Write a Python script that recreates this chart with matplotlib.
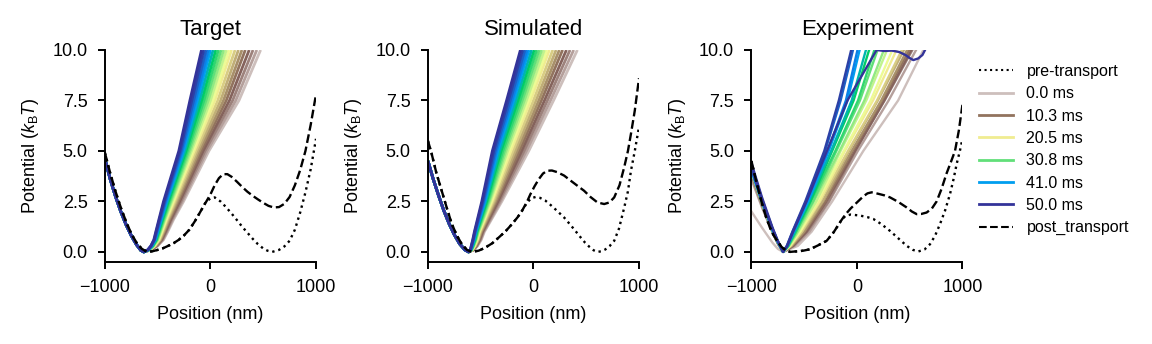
import matplotlib
matplotlib.use("Agg")
import matplotlib.pyplot as plt
from matplotlib.lines import Line2D

plt.rcParams['font.family'] = ['Liberation Sans', 'DejaVu Sans']
plt.rcParams['mathtext.fontset'] = 'custom'
plt.rcParams['mathtext.rm'] = 'Liberation Sans'
plt.rcParams['mathtext.it'] = 'Liberation Sans:italic'

# frame times (ms), every other frame of the 40-frame protocol + last one
frame_t = [0.0, 2.6, 5.1, 7.7, 10.3, 12.8, 15.4, 17.9, 20.5, 23.1, 25.6,
           28.2, 30.8, 33.3, 35.9, 38.5, 41.0, 43.6, 46.2, 48.7, 50.0]
legend_idx = [0, 4, 8, 12, 16, 20]
levels = [0.1, 0.3, 0.6, 1.0, 1.6, 2.5, 5.0, 7.5, 10.0]
exp_levels = [0.3, 1.0, 2.5, 5.0, 7.5, 10.0]

# ---- Target ----
tgt_left_x = [-1000, -950, -900, -850, -800, -750, -700, -660, -632]
tgt_left_y = [4.6, 3.6, 2.75, 2.0, 1.35, 0.8, 0.35, 0.08, 0.0]
tgt_x01 = [-560, -562, -565, -567, -569, -571, -573, -575, -577, -579, -580,
           -582, -583, -585, -587, -588, -590, -591, -592, -594, -595]
tgt_x03 = [-500, -504, -508, -513, -517, -521, -524, -528, -532, -535, -538,
           -541, -544, -546, -549, -552, -555, -558, -560, -563, -565]
tgt_x06 = [-445, -451, -457, -463, -469, -474, -480, -485, -490, -494, -498,
           -502, -507, -511, -515, -519, -523, -527, -530, -533, -537]
tgt_x1 = [-405, -412, -420, -427, -434, -441, -447, -454, -460, -466, -471,
          -476, -481, -486, -491, -496, -501, -505, -509, -514, -518]
tgt_x16 = [-350, -359, -368, -377, -386, -394, -402, -410, -418, -424, -431,
           -437, -443, -449, -455, -462, -468, -473, -478, -484, -489]
tgt_x25 = [-255, -267, -280, -292, -304, -315, -326, -337, -348, -357, -365,
           -374, -382, -391, -399, -408, -416, -423, -430, -438, -445]
tgt_x5 = [-15, -33, -52, -70, -89, -105, -122, -138, -155, -168, -180,
          -193, -206, -219, -231, -244, -257, -267, -278, -289, -300]
tgt_x75 = [270, 240, 210, 180, 150, 123, 96, 69, 42, 21, 0,
           -21, -42, -62, -83, -104, -124, -142, -159, -177, -195]
tgt_x10 = [475, 439, 403, 367, 330, 298, 265, 233, 200, 175, 150,
           125, 100, 75, 50, 25, 0, -21, -42, -64, -85]
tgt_pre_x = [-1000, -950, -900, -850, -800, -750, -700, -650, -600, -550, -500,
             -450, -400, -350, -300, -250, -200, -150, -100, -50, 0, 40, 100,
             150, 200, 250, 300, 350, 400, 450, 500, 540, 585, 650, 700, 750,
             800, 850, 900, 950, 1000]
tgt_pre_y = [4.9, 3.9, 3.0, 2.2, 1.5, 0.9, 0.45, 0.15, 0.0, 0.03, 0.1,
             0.18, 0.3, 0.43, 0.6, 0.82, 1.1, 1.5, 1.95, 2.42, 2.66, 2.7, 2.48,
             2.2, 1.9, 1.58, 1.25, 0.95, 0.65, 0.38, 0.17, 0.06, 0.0, 0.1, 0.27, 0.55,
             1.1, 1.95, 2.95, 4.1, 5.6]
tgt_post_x = [-1000, -950, -900, -850, -800, -750, -700, -650, -600, -550, -500,
              -450, -400, -350, -300, -250, -200, -150, -100, -50, 0, 40, 80,
              120, 160, 200, 250, 300, 350, 400, 450, 500, 550, 600, 650, 700,
              750, 800, 850, 900, 950, 1000]
tgt_post_y = [4.9, 3.9, 3.0, 2.2, 1.5, 0.9, 0.45, 0.15, 0.0, 0.03, 0.1,
              0.18, 0.3, 0.43, 0.6, 0.82, 1.1, 1.5, 1.95, 2.4, 2.85, 3.3, 3.65,
              3.85, 3.85, 3.72, 3.48, 3.22, 2.98, 2.78, 2.6, 2.43, 2.28, 2.2, 2.22, 2.38,
              2.72, 3.3, 4.05, 5.0, 6.3, 7.8]

# ---- Simulated ----
sim_left_x = [-1000, -950, -900, -850, -800, -750, -700, -650, -615]
sim_left_y = [4.5, 3.6, 2.8, 2.05, 1.4, 0.85, 0.4, 0.1, 0.0]
sim_x01 = [-566, -568, -570, -572, -575, -576, -578, -580, -582, -584, -585,
           -587, -588, -590, -591, -593, -594, -595, -596, -598, -599]
sim_x03 = [-530, -534, -538, -542, -546, -549, -552, -556, -559, -562, -565,
           -568, -570, -573, -576, -578, -581, -583, -585, -588, -590]
sim_x06 = [-495, -500, -505, -511, -516, -521, -525, -530, -535, -538, -542,
           -546, -549, -553, -556, -560, -564, -567, -570, -573, -576]
sim_x1 = [-465, -471, -477, -483, -490, -495, -501, -506, -512, -516, -520,
          -524, -529, -533, -537, -541, -546, -549, -553, -556, -560]
sim_x16 = [-399, -407, -416, -425, -433, -441, -449, -456, -464, -470, -476,
           -482, -488, -494, -500, -506, -512, -517, -522, -527, -532]
sim_x25 = [-300, -312, -325, -337, -349, -360, -371, -382, -393, -402, -410,
           -419, -427, -436, -444, -453, -461, -468, -475, -483, -490]
sim_x5 = [-45, -67, -89, -112, -134, -154, -174, -194, -214, -230, -245,
          -261, -276, -291, -307, -322, -338, -351, -363, -377, -390]
sim_x75 = [190, 161, 132, 104, 75, 50, 24, -1, -27, -47, -67,
           -87, -107, -126, -147, -167, -187, -204, -220, -238, -255]
sim_x10 = [416, 381, 346, 312, 276, 245, 214, 183, 151, 127, 103,
           78, 54, 30, 6, -18, -42, -62, -82, -103, -124]
sim_pre_x = [-1000, -965, -920, -870, -820, -774, -725, -679, -630, -584, -520,
             -457, -390, -330, -265, -203, -150, -108, -60, -20, 20, 60, 110,
             150, 220, 289, 340, 380, 448, 490, 530, 570, 606, 645, 680, 720,
             765, 810, 860, 895, 924, 960, 1000]
sim_pre_y = [5.5, 4.86, 3.9, 3.03, 2.15, 1.38, 0.8, 0.38, 0.1, 0.0, 0.06,
             0.21, 0.43, 0.71, 1.02, 1.38, 1.72, 2.04, 2.45, 2.66, 2.72, 2.68, 2.55,
             2.38, 2.05, 1.71, 1.4, 1.15, 0.71, 0.45, 0.25, 0.08, 0.0, 0.03, 0.12, 0.28,
             0.55, 1.15, 2.2, 3.0, 4.03, 5.0, 6.2]
sim_post_x = [-1000, -965, -920, -870, -820, -774, -725, -679, -630, -584, -520,
              -457, -390, -330, -265, -203, -150, -108, -60, -30, 10, 50, 90,
              130, 175, 225, 290, 352, 415, 479, 540, 606, 670, 720, 765, 815,
              860, 895, 924, 960, 1000]
sim_post_y = [5.5, 4.86, 3.9, 3.03, 2.15, 1.38, 0.8, 0.38, 0.1, 0.0, 0.06,
              0.21, 0.43, 0.71, 1.02, 1.38, 1.72, 2.04, 2.5, 2.85, 3.25, 3.6, 3.88,
              4.02, 4.03, 3.95, 3.78, 3.53, 3.28, 3.03, 2.72, 2.45, 2.37, 2.45, 2.7, 3.3,
              4.2, 5.0, 5.86, 7.0, 8.6]

# ---- Experiment ----
exp_min_x = -700
exp_y_m1000 = [2.0, 3.6, 3.8, 3.9, 4.0, 3.9, 4.1, 4.0, 4.2, 4.0, 4.2,
               4.1, 4.0, 4.2, 4.1, 4.3, 4.0, 4.2, 4.3, 4.1, 4.4]
exp_y_m900 = [1.2, 2.2, 2.3, 2.4, 2.45, 2.4, 2.5, 2.4, 2.5, 2.5, 2.6,
              2.5, 2.4, 2.6, 2.5, 2.6, 2.5, 2.5, 2.6, 2.5, 2.7]
exp_y_m800 = [0.45, 0.95, 1.0, 1.0, 1.05, 1.0, 1.1, 1.0, 1.1, 1.05, 1.1,
              1.1, 1.0, 1.15, 1.1, 1.1, 1.05, 1.1, 1.15, 1.1, 1.2]
exp_y_m750 = [0.15, 0.4, 0.42, 0.45, 0.45, 0.42, 0.5, 0.45, 0.5, 0.48, 0.5,
              0.5, 0.45, 0.52, 0.5, 0.5, 0.48, 0.5, 0.52, 0.5, 0.55]
exp_x03 = [-560, -590, -600, -605, -615, -618, -625, -628, -635, -637, -642,
           -645, -650, -650, -655, -655, -660, -660, -663, -665, -660]
exp_x1 = [-430, -450, -470, -478, -495, -500, -518, -522, -538, -540, -557,
          -562, -578, -576, -590, -588, -600, -602, -610, -612, -605]
exp_x25 = [-235, -262, -268, -290, -298, -320, -326, -350, -356, -378, -386,
           -410, -416, -438, -442, -458, -462, -478, -482, -490, -478]
exp_x5 = [60, 8, -15, -18, -40, -50, -75, -85, -115, -125, -155,
          -165, -195, -205, -235, -245, -268, -276, -302, -310, -285]
exp_x75 = [390, 300, 262, 258, 238, 230, 198, 190, 152, 130, 88,
           70, 28, 10, -32, -50, -90, -105, -155, -172, -90]
exp_x10 = [629, 560, 525, 515, 495, 475, 445, 425, 375, 335, 285,
           255, 195, 165, 115, 85, 25, 5, -38, -55, 186]
# last frame keeps going flat along the top of the range
exp_tail_x = [260, 330, 400, 460, 500, 534, 580, 620, 645, 690]
exp_tail_y = [9.95, 9.97, 9.9, 9.75, 9.6, 9.5, 9.58, 9.75, 10.0, 10.5]
exp_pre_x = [-1000, -950, -900, -860, -825, -790, -750, -715, -680, -635, -590,
             -550, -500, -445, -370, -287, -220, -150, -110, -60, 28, 100, 155,
             230, 313, 390, 471, 530, 581, 640, 692, 740, 787, 835, 882, 915,
             945, 975, 1000]
exp_pre_y = [4.5, 3.4, 2.4, 1.7, 1.21, 0.82, 0.5, 0.25, 0.1, 0.0, 0.02,
             0.03, 0.07, 0.13, 0.32, 0.55, 0.98, 1.55, 1.78, 1.85, 1.8, 1.72, 1.63,
             1.38, 1.04, 0.68, 0.3, 0.1, 0.02, 0.12, 0.38, 0.8, 1.38, 2.05, 2.87, 3.6,
             4.36, 5.0, 5.6]
exp_post_x = [-1000, -950, -900, -860, -825, -790, -750, -715, -680, -635, -590,
              -550, -500, -445, -370, -287, -220, -150, -110, -60, 0, 60, 100,
              139, 200, 260, 313, 390, 471, 520, 566, 610, 660, 710, 755, 800,
              850, 890, 929, 965, 1000]
exp_post_y = [4.5, 3.4, 2.4, 1.7, 1.21, 0.82, 0.5, 0.25, 0.1, 0.0, 0.02,
              0.03, 0.07, 0.13, 0.32, 0.55, 0.98, 1.55, 1.85, 2.15, 2.45, 2.75, 2.9,
              2.95, 2.88, 2.8, 2.7, 2.48, 2.2, 2.0, 1.87, 1.88, 1.95, 2.15, 2.5, 3.1,
              3.9, 4.45, 5.0, 6.0, 7.3]

cmap = plt.get_cmap('terrain')


def frame_color(t):
    return cmap(0.9 * (1 - t / 50.0))


def style_ax(ax, title):
    ax.set_xlim(-1000, 1000)
    ax.set_ylim(-0.5, 10)
    ax.set_xticks([-1000, 0, 1000])
    ax.set_yticks([0, 2.5, 5, 7.5, 10])
    ax.set_yticklabels(['0.0', '2.5', '5.0', '7.5', '10.0'])
    ax.spines['top'].set_visible(False)
    ax.spines['right'].set_visible(False)
    for s in ['left', 'bottom']:
        ax.spines[s].set_linewidth(1.4)
    ax.tick_params(width=1.4, length=5, labelsize=13, pad=7.5)
    ax.set_title(title, fontsize=16, pad=11)
    ax.set_xlabel('Position (nm)', fontsize=13, labelpad=7)
    ax.set_ylabel(r'Potential ($k_{\mathrm{B}}T$)', fontsize=13, labelpad=8)


fig = plt.figure(figsize=(11.52, 3.44), dpi=100)
ax_w, ax_h, ax_b = 0.1832, 0.6163, 0.2384
axes = [fig.add_axes([l, ax_b, ax_w, ax_h]) for l in (0.0911, 0.3715, 0.6523)]

# Target and Simulated: dense bands of curves
for ax, lx, ly, xl in [
        (axes[0], tgt_left_x, tgt_left_y,
         [tgt_x01, tgt_x03, tgt_x06, tgt_x1, tgt_x16, tgt_x25, tgt_x5, tgt_x75, tgt_x10]),
        (axes[1], sim_left_x, sim_left_y,
         [sim_x01, sim_x03, sim_x06, sim_x1, sim_x16, sim_x25, sim_x5, sim_x75, sim_x10])]:
    for j, t in enumerate(frame_t):
        xs = lx + [lv[j] for lv in xl]
        ys = ly + levels
        ax.plot(xs, ys, color=frame_color(t), lw=2.0, solid_capstyle='butt', zorder=2)

# Experiment: individual measured curves
exp_cols = [exp_x03, exp_x1, exp_x25, exp_x5, exp_x75, exp_x10]
for j, t in enumerate(frame_t):
    xs = [-1000, -900, -800, -750, exp_min_x] + [lv[j] for lv in exp_cols]
    ys = [exp_y_m1000[j], exp_y_m900[j], exp_y_m800[j], exp_y_m750[j], 0.0] + exp_levels
    if j == len(frame_t) - 1:
        xs = xs + exp_tail_x
        ys = ys + exp_tail_y
    axes[2].plot(xs, ys, color=frame_color(t), lw=1.7, zorder=2)

for ax, px, py, qx, qy in [(axes[0], tgt_pre_x, tgt_pre_y, tgt_post_x, tgt_post_y),
                           (axes[1], sim_pre_x, sim_pre_y, sim_post_x, sim_post_y),
                           (axes[2], exp_pre_x, exp_pre_y, exp_post_x, exp_post_y)]:
    ax.plot(px, py, color='black', ls=':', lw=1.7, zorder=3)
    ax.plot(qx, qy, color='black', ls='--', lw=1.7, zorder=3)

for ax, title in zip(axes, ['Target', 'Simulated', 'Experiment']):
    style_ax(ax, title)

handles = [Line2D([], [], color='black', ls=':', lw=1.5)]
labels = ['pre-transport']
for j in legend_idx:
    handles.append(Line2D([], [], color=frame_color(frame_t[j]), lw=2))
    labels.append(f'{frame_t[j]:.1f} ms')
handles.append(Line2D([], [], color='black', ls='--', lw=1.5))
labels.append('post_transport')
fig.legend(handles, labels, loc='upper left', bbox_to_anchor=(0.8446, 0.833),
           frameon=False, fontsize=11.5, handlelength=2.1, handletextpad=0.85,
           labelspacing=0.46, borderaxespad=0)

fig.savefig('out.png', dpi=100)
